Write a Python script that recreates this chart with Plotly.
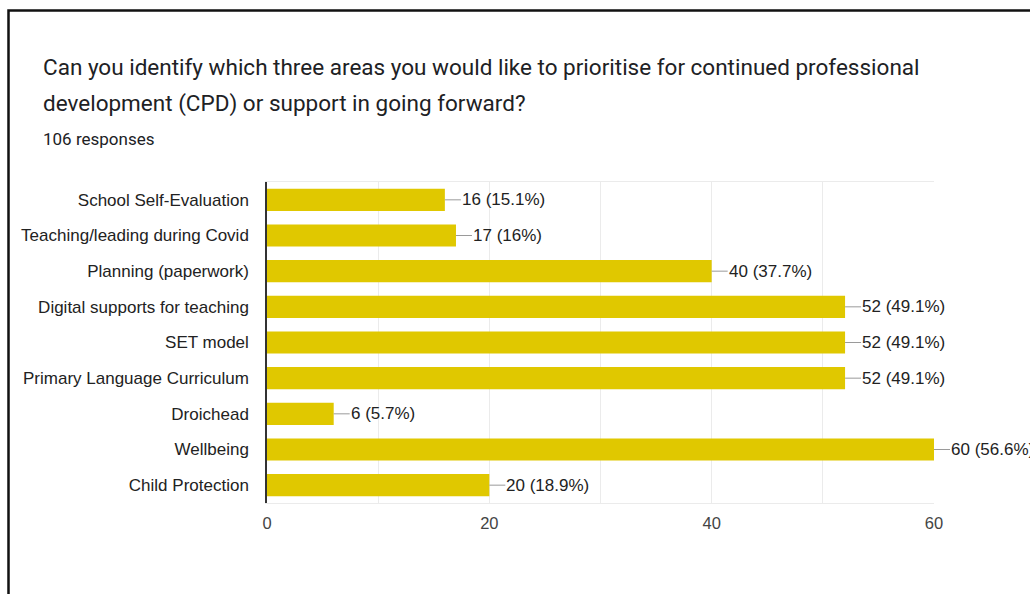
import plotly.graph_objects as go

# Survey results: number of respondents selecting each CPD area
categories = [
    "School Self-Evaluation",
    "Teaching/leading during Covid",
    "Planning (paperwork)",
    "Digital supports for teaching",
    "SET model",
    "Primary Language Curriculum",
    "Droichead",
    "Wellbeing",
    "Child Protection",
]
counts = [16, 17, 40, 52, 52, 52, 6, 60, 20]
total_responses = 106
x_ticks = [0, 20, 40, 60]

W, H = 1030, 594
L, R, T, B = 267, 934, 182, 503  # plot area in pixels


def px_x(p):
    return (p - L) / (R - L)


def px_y(p):
    return (B - p) / (B - T)


def pct_label(v):
    s = f"{100 * v / total_responses:.1f}".rstrip("0").rstrip(".")
    return f"{v} ({s}%)"


fig = go.Figure(
    go.Bar(
        x=counts,
        y=categories,
        orientation="h",
        marker=dict(color="#E0C800", line=dict(width=0)),
        width=0.62,
        hoverinfo="skip",
    )
)

label_font = dict(family="Liberation Sans, Arial", size=17, color="#222222")

annotations = []
for cat, v in zip(categories, counts):
    annotations.append(
        dict(
            x=v, y=cat, xref="x", yref="y",
            text=pct_label(v),
            showarrow=True, arrowhead=0, arrowwidth=1, arrowcolor="#9a9a9a",
            ax=16, ay=0, xanchor="left", standoff=0, startstandoff=0,
            font=label_font,
            borderpad=0,
        )
    )

text_font = dict(family="Roboto, Arial", color="#202124")
annotations += [
    dict(x=px_x(41), y=px_y(67), xref="paper", yref="paper", showarrow=False,
         xanchor="left", yanchor="middle",
         text="Can you identify which three areas you would like to prioritise for continued professional",
         font=dict(size=22.5, **text_font)),
    dict(x=px_x(41), y=px_y(103), xref="paper", yref="paper", showarrow=False,
         xanchor="left", yanchor="middle",
         text="development (CPD) or support in going forward?",
         font=dict(size=22.5, **text_font)),
    dict(x=px_x(41), y=px_y(139), xref="paper", yref="paper", showarrow=False,
         xanchor="left", yanchor="middle",
         text=f"{total_responses} responses",
         font=dict(size=17, **text_font)),
]

# Frame around the card (top and left edges)
shapes = [
    dict(type="path", xref="paper", yref="paper",
         path=f"M {px_x(8.5)} {px_y(620)} L {px_x(8.5)} {px_y(10.5)} L {px_x(1060)} {px_y(10.5)}",
         line=dict(color="#111111", width=2.5)),
]

fig.update_layout(
    width=W, height=H,
    margin=dict(l=L, r=W - R, t=T, b=H - B, pad=0),
    paper_bgcolor="white", plot_bgcolor="white",
    showlegend=False,
    annotations=annotations,
    shapes=shapes,
    xaxis=dict(
        range=[0, 60], tickvals=x_ticks, showgrid=True, gridcolor="#ebebeb", gridwidth=1,
        minor=dict(dtick=10, tick0=0, showgrid=True, gridcolor="#ebebeb", gridwidth=1),
        zeroline=False, showline=True, linecolor="#ebebeb", linewidth=1, mirror=True,
        tickfont=dict(family="Liberation Sans, Arial", size=16.5, color="#444444"),
        ticks="", ticklen=0, ticklabelstandoff=5, fixedrange=True,
    ),
    yaxis=dict(
        autorange="reversed", showgrid=False, zeroline=False,
        showline=True, linecolor="#333333", linewidth=1.5,
        tickfont=label_font,
        ticks="", ticklen=0, ticklabelstandoff=13, fixedrange=True,
    ),
)

fig.write_html("out.html", config=dict(displayModeBar=False))
